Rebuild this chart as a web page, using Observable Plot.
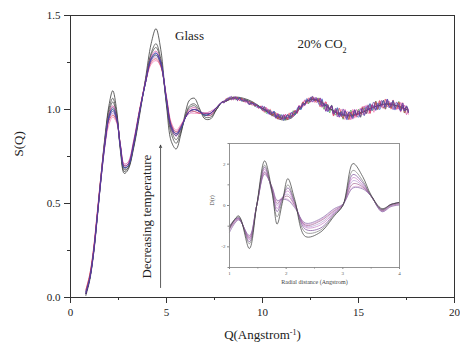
<!DOCTYPE html>
<html><head><meta charset="utf-8">
<script src="https://cdn.jsdelivr.net/npm/d3@7"></script>
<script src="https://cdn.jsdelivr.net/npm/@observablehq/plot@0.6"></script>
<style>
body{margin:0;background:#fff;}
#chart{width:460px;height:343px;}
</style></head><body><div id="chart"></div>
<script>
// ---- Main plot: S(Q) ----
const qLow = [0.8,1.0,1.2,1.4,1.6,1.8,2.0,2.2,2.4,2.6,2.8,3.0,3.3,3.6,3.9,4.2,4.45,4.7,5.0,5.25,5.5,5.75,6.0,6.2,6.45,6.7,7.0,7.3,7.6,7.9];
const lowGray1 = [0.02,0.10,0.24,0.44,0.66,0.86,1.02,1.10,1.00,0.78,0.66,0.68,0.80,0.97,1.16,1.35,1.43,1.32,1.02,0.83,0.79,0.87,0.99,1.05,1.06,1.01,0.95,0.95,1.00,1.04];
const lowGray2 = [0.01,0.09,0.23,0.43,0.65,0.85,1.00,1.06,0.98,0.79,0.67,0.69,0.81,0.98,1.15,1.30,1.35,1.27,1.03,0.87,0.82,0.88,0.97,1.02,1.03,1.00,0.96,0.96,1.00,1.04];
const lowGray3 = [0.02,0.10,0.24,0.44,0.65,0.84,0.98,1.04,0.97,0.80,0.68,0.69,0.81,0.99,1.15,1.29,1.33,1.26,1.04,0.89,0.84,0.89,0.97,1.01,1.02,0.99,0.97,0.97,1.00,1.04];
const lowMagenta = [0.03,0.11,0.25,0.45,0.66,0.84,0.97,1.02,0.96,0.80,0.69,0.70,0.82,0.99,1.15,1.28,1.31,1.25,1.05,0.90,0.86,0.90,0.96,1.00,1.01,0.99,0.97,0.97,1.01,1.04];
const lowBlue = [0.03,0.10,0.24,0.44,0.65,0.83,0.96,1.00,0.95,0.80,0.69,0.70,0.82,0.99,1.14,1.27,1.30,1.25,1.05,0.91,0.87,0.90,0.96,0.99,1.00,0.99,0.97,0.98,1.01,1.04];
const lowPurple = [0.02,0.10,0.23,0.43,0.64,0.82,0.95,0.99,0.95,0.81,0.70,0.71,0.83,0.99,1.14,1.26,1.29,1.24,1.06,0.91,0.87,0.91,0.96,0.99,1.00,0.99,0.98,0.98,1.01,1.04];
const lowRed = [0.04,0.12,0.26,0.46,0.66,0.83,0.94,0.97,0.94,0.81,0.70,0.71,0.83,1.00,1.14,1.25,1.27,1.23,1.06,0.92,0.88,0.91,0.96,0.99,0.99,0.98,0.98,0.98,1.01,1.04];
const lowLavender = [0.03,0.11,0.25,0.45,0.65,0.82,0.95,0.98,0.94,0.81,0.71,0.72,0.84,1.00,1.14,1.26,1.28,1.24,1.06,0.92,0.88,0.91,0.96,0.98,0.99,0.98,0.98,0.99,1.01,1.04];
const lowPink = [0.04,0.12,0.25,0.45,0.64,0.81,0.92,0.96,0.93,0.81,0.71,0.72,0.84,1.00,1.14,1.24,1.26,1.23,1.07,0.93,0.89,0.92,0.96,0.98,0.98,0.98,0.98,0.99,1.01,1.04];
const lowNavy = [0.02,0.10,0.24,0.44,0.64,0.82,0.96,1.01,0.96,0.80,0.69,0.70,0.82,0.99,1.14,1.27,1.30,1.25,1.05,0.90,0.86,0.90,0.96,0.99,1.00,0.99,0.97,0.98,1.01,1.04];
const lowGreen = [0.03,0.11,0.24,0.44,0.65,0.83,0.96,1.00,0.95,0.80,0.69,0.70,0.82,0.99,1.14,1.27,1.29,1.24,1.05,0.91,0.87,0.90,0.96,0.99,1.00,0.99,0.97,0.98,1.01,1.04];

// high-Q smooth gray curves (knots)
const qGrayHigh = [8.0,8.5,9.0,9.5,10.0,10.5,11.0,11.5,12.0,12.5,13.0,13.5,14.0,14.5,15.0,15.5,16.0,16.5,17.0,17.5];
const highGray1 = [1.04,1.065,1.06,1.04,1.005,0.97,0.945,0.955,1.01,1.055,1.045,1.005,0.975,0.965,0.975,1.0,1.02,1.03,1.02,1.0];
const highGray2 = [1.04,1.062,1.055,1.035,1.005,0.975,0.952,0.962,1.012,1.053,1.042,1.004,0.978,0.968,0.978,1.0,1.02,1.029,1.02,0.999];
const highGray3 = [1.04,1.06,1.052,1.032,1.005,0.978,0.956,0.966,1.013,1.052,1.041,1.004,0.979,0.97,0.979,1.0,1.02,1.028,1.02,0.999];

// high-Q noisy region
const qHigh = [8.0,8.1,8.2,8.3,8.4,8.5,8.6,8.7,8.8,8.9,9.0,9.1,9.2,9.3,9.4,9.5,9.6,9.7,9.8,9.9,
10.0,10.1,10.2,10.3,10.4,10.5,10.6,10.7,10.8,10.9,11.0,11.1,11.2,11.3,11.4,11.5,11.6,11.7,11.8,11.9,
12.0,12.1,12.2,12.3,12.4,12.5,12.6,12.7,12.8,12.9,13.0,13.1,13.2,13.3,13.4,13.5,13.6,13.7,13.8,13.9,
14.0,14.1,14.2,14.3,14.4,14.5,14.6,14.7,14.8,14.9,15.0,15.1,15.2,15.3,15.4,15.5,15.6,15.7,15.8,15.9,
16.0,16.1,16.2,16.3,16.4,16.5,16.6,16.7,16.8,16.9,17.0,17.1,17.2,17.3,17.4,17.5,17.6];
const baseHigh = [1.04,1.05,1.055,1.06,1.06,1.06,1.06,1.055,1.055,1.05,
1.05,1.045,1.04,1.035,1.03,1.03,1.025,1.02,1.015,1.01,
1.005,1.0,0.995,0.99,0.985,0.98,0.975,0.97,0.965,0.962,
0.96,0.958,0.958,0.96,0.965,0.97,0.978,0.985,0.995,1.005,
1.015,1.025,1.035,1.042,1.048,1.052,1.055,1.055,1.052,1.047,
1.04,1.032,1.025,1.017,1.01,1.003,0.997,0.992,0.988,0.984,
0.98,0.977,0.975,0.973,0.972,0.972,0.972,0.973,0.975,0.978,
0.981,0.985,0.989,0.993,0.997,1.001,1.005,1.009,1.013,1.017,
1.02,1.023,1.025,1.027,1.028,1.028,1.027,1.026,1.024,1.022,
1.02,1.017,1.013,1.009,1.004,0.998,0.992];
// noise deviations, thousandths
const jitMagenta = [3,-6,8,-2,5,-9,4,7,-5,2,-8,6,-3,9,-4,1,-7,5,-2,8,
-12,6,15,-9,3,-16,11,-4,14,-13,7,-2,16,-10,5,12,-15,8,-6,17,-11,2,13,-8,-14,9,4,-17,12,-5,
20,-14,6,-25,18,-8,24,-19,3,15,-22,10,-4,27,-16,8,-26,19,-11,22,-6,-20,14,25,-18,5,-24,17,-9,28,-21,12,-3,23,-27,9,16,-13,26,-20,4,-15,24,-8,19,-25,10];
const jitBlue = [-5,4,-1,7,-8,3,6,-4,9,-6,2,-3,8,-7,4,-1,6,-9,3,-5,
14,-8,4,-15,10,-2,17,-12,6,-7,13,-16,3,9,-11,15,-4,-13,8,11,-17,5,-9,16,-6,12,-14,2,10,-12,
-18,25,-9,14,-23,7,20,-15,-2,26,-19,11,-7,21,-28,13,4,-17,24,-10,-22,16,6,-26,19,-5,27,-14,9,-21,15,-24,3,20,-16,28,-11,-6,22,-25,13,7,-19,25,-12,17,-8];
const jitPurple = [6,-2,-7,4,9,-5,1,-8,5,3,-6,8,-1,-9,6,2,-4,7,-8,4,
-9,16,-5,11,-14,3,8,-17,12,-3,-10,15,-7,13,-2,-16,9,6,-13,14,-4,10,-15,7,1,-11,17,-8,5,-6,
22,-17,9,-27,13,-4,25,-12,18,-23,6,-15,28,-9,-20,16,3,-24,21,-7,11,-26,19,-2,-18,24,-13,8,27,-21,5,-11,23,-16,-4,26,-19,12,-25,9,18,-7,-22,15,-13,22,-3];
const jitRed = [-3,8,-6,2,-9,7,-1,5,-7,9,-4,-2,7,-6,3,8,-5,1,-8,6,
11,-15,7,-4,16,-9,2,13,-17,6,-12,10,4,-14,17,-7,-3,12,-16,9,-1,15,-10,-5,14,-13,8,3,-15,11,
-26,14,-8,23,-17,2,19,-25,10,-14,27,-6,-21,17,8,-28,15,-3,24,-19,12,-9,26,-23,4,18,-27,13,-5,21,-16,25,-10,-20,28,-13,6,-24,19,-1,-17,23,-11,27,-22,14,-6];
const jitGreen = [2,-4,6,-7,3,5,-8,1,7,-3,-6,4,9,-5,-2,8,-9,3,6,-4,
-7,12,-16,5,9,-13,15,-2,-11,14,-6,8,-15,11,3,-9,16,-12,1,7,-14,13,-5,10,-17,4,12,-8,-3,15,
-12,19,-24,7,15,-21,26,-4,-17,22,-9,13,-27,18,2,-22,25,-14,9,-6,20,-26,11,16,-19,3,24,-15,-8,27,-20,10,-2,21,-25,14,6,-18,23,-11,-5,26,-16,12,-23,19,-9];
const jitPink = [-6,3,5,-8,2,-4,9,-7,4,-1,6,-9,2,7,-3,-8,5,4,-6,1,
8,-11,14,-6,-13,10,3,-16,12,-5,9,-14,17,-8,-2,13,-10,6,-15,11,4,-12,16,-7,-1,14,-16,9,2,-10,
17,-22,8,25,-16,-5,21,-27,12,3,-19,24,-10,-26,18,7,-14,28,-21,5,-12,23,-17,10,26,-24,-3,16,-28,19,-8,22,-13,4,-25,20,11,-18,27,-6,-21,15,-27,24,-9,13,-18];

const xTicks = [0,5,10,15,20], xMinor = [2.5,7.5,12.5,17.5];
const yTicks = [0,0.5,1.0,1.5], yMinor = [0.25,0.75,1.25];

// ---- Inset: D(r) ----
const rIn = [1.0,1.16,1.35,1.48,1.62,1.75,1.84,1.93,2.03,2.15,2.34,2.6,2.85,3.0,3.18,3.35,3.5,3.69,3.85,4.0];
const d1 = [-1.1,-0.5,-2.08,0.0,2.16,0.7,-0.9,0.1,1.3,0.3,-1.5,-1.3,-0.5,0.0,2.03,1.4,0.5,-0.15,0.05,0.15];
const d2 = [-1.0,-0.55,-1.85,0.0,1.95,0.6,-0.55,0.2,1.0,0.2,-1.3,-1.2,-0.45,0.0,1.7,1.2,0.45,-0.2,0.05,0.15];
const d3 = [-1.0,-0.6,-1.75,0.0,1.85,0.7,-0.3,0.3,0.85,0.15,-1.15,-1.1,-0.4,0.0,1.5,1.1,0.45,-0.2,0.05,0.15];
const d4 = [-1.05,-0.6,-1.65,0.0,1.75,0.75,-0.15,0.35,0.7,0.1,-1.05,-0.95,-0.35,0.02,1.35,1.0,0.45,-0.2,0.05,0.12];
const d5 = [-1.1,-0.62,-1.6,0.0,1.65,0.8,0.0,0.4,0.55,0.05,-1.0,-0.85,-0.3,0.03,1.2,0.95,0.45,-0.25,0.0,0.1];
const d6 = [-1.15,-0.65,-1.55,0.0,1.6,0.85,0.1,0.35,0.45,0.0,-0.95,-0.75,-0.25,0.05,1.05,0.9,0.45,-0.25,0.0,0.08];
const d7 = [-1.2,-0.68,-1.5,0.0,1.55,0.9,0.2,0.35,0.3,-0.05,-0.9,-0.7,-0.2,0.05,0.9,0.85,0.45,-0.3,-0.05,0.05];
const d8 = [-1.3,-0.7,-1.45,0.0,1.5,0.9,0.25,0.3,0.25,-0.1,-0.85,-0.65,-0.15,0.06,0.85,0.8,0.45,-0.3,-0.05,0.02];
const rTicks = [1,2,3,4], rMinor = [1.5,2.5,3.5];
const dTicks = [-2,0,2], dMinor = [-3,-1,1,3];

// ---- build rows ----
const rows = (xs, ys) => xs.map((x, i) => ({x, y: ys[i]}));
const noisy = (jit) => baseHigh.map((b, i) => b + jit[i] / 1000);

const grayCurves = [
  {c: "#555555", r: rows(qLow.concat(qGrayHigh), lowGray3.concat(highGray3))},
  {c: "#4a4a4a", r: rows(qLow.concat(qGrayHigh), lowGray2.concat(highGray2))},
  {c: "#3a3a3a", r: rows(qLow.concat(qGrayHigh), lowGray1.concat(highGray1))}
];
const colorCurves = [
  {c: "#a890d8", r: rows(qLow, lowLavender)},
  {c: "#ee6fb0", r: rows(qLow.concat(qHigh), lowPink.concat(noisy(jitPink)))},
  {c: "#d2349a", r: rows(qLow.concat(qHigh), lowMagenta.concat(noisy(jitMagenta)))},
  {c: "#3a9a3a", r: rows(qLow.concat(qHigh), lowGreen.concat(noisy(jitGreen)))},
  {c: "#d8344a", r: rows(qLow.concat(qHigh), lowRed.concat(noisy(jitRed)))},
  {c: "#2c2c80", r: rows(qLow, lowNavy)},
  {c: "#3b4fc8", r: rows(qLow.concat(qHigh), lowBlue.concat(noisy(jitBlue)))},
  {c: "#6a2c9a", r: rows(qLow.concat(qHigh), lowPurple.concat(noisy(jitPurple)))}
];
const insetCurves = [
  {c: "#d9a6d9", v: d7}, {c: "#b39ad0", v: d5}, {c: "#c47ac4", v: d4}, {c: "#a0608f", v: d6},
  {c: "#8a6aa8", v: d8}, {c: "#7a4a9a", v: d3}, {c: "#7a7a7a", v: d2}, {c: "#3a3a3a", v: d1}
];

const serif = "'Liberation Serif', 'Times New Roman', serif";

const main = Plot.plot({
  width: 460, height: 343,
  marginLeft: 70, marginRight: 6, marginTop: 15, marginBottom: 46,
  style: {fontFamily: serif, fontSize: "11px", color: "#222", background: "#fff", overflow: "visible"},
  x: {domain: [0, 20], label: null},
  y: {domain: [0, 1.5], label: null},
  marks: [
    ...grayCurves.map(d => Plot.line(d.r, {x: "x", y: "y", stroke: d.c, strokeWidth: 0.8, curve: "catmull-rom"})),
    ...colorCurves.map(d => Plot.line(d.r, {x: "x", y: "y", stroke: d.c, strokeWidth: 0.7, curve: "catmull-rom"})),
    Plot.frame({stroke: "#333", strokeWidth: 1}),
    Plot.axisX(xTicks, {tickSize: 6, tickPadding: 5, tickFormat: d => String(d), stroke: "#333", label: null}),
    Plot.axisX(xMinor, {tickSize: 3, tickFormat: () => "", stroke: "#333", label: null}),
    Plot.axisY(yTicks, {tickSize: 6, tickPadding: 4, tickFormat: d => d.toFixed(1), stroke: "#333", label: null}),
    Plot.axisY(yMinor, {tickSize: 3, tickFormat: () => "", stroke: "#333", label: null}),
    Plot.text(["S(Q)"], {text: d => d, frameAnchor: "left", dx: -52, rotate: -90, fontSize: 13, fill: "#222"}),
    Plot.text(["Q(Angstrom-1)"], {text: d => d, frameAnchor: "bottom", dy: 41, fontSize: 13, fill: "#222", className: "xlab"}),
    Plot.text(["Glass"], {text: d => d, x: 6.2, y: 1.39, fontSize: 13, fill: "#222"}),
    Plot.text(["20% CO2"], {text: d => d, x: 13.1, y: 1.35, fontSize: 13, fill: "#222", className: "co2"}),
    Plot.text(["Decreasing temperature"], {text: d => d, x: 3.95, y: 0.43, rotate: -90, fontSize: 13, fill: "#222"}),
    Plot.arrow([0], {x1: 4.69, y1: 0.053, x2: 4.69, y2: 0.81, headLength: 5, headAngle: 50, stroke: "#333", strokeWidth: 0.8})
  ]
});

const inset = Plot.plot({
  width: 196, height: 150,
  marginLeft: 22, marginRight: 4, marginTop: 4, marginBottom: 22,
  style: {fontFamily: serif, fontSize: "5px", color: "#555", background: "none", overflow: "visible"},
  x: {domain: [1, 4], label: null},
  y: {domain: [-3, 3], label: null},
  marks: [
    ...insetCurves.map(d => Plot.line(rows(rIn, d.v), {x: "x", y: "y", stroke: d.c, strokeWidth: 0.7, curve: "catmull-rom"})),
    Plot.frame({stroke: "#888", strokeWidth: 0.9}),
    Plot.axisX(rTicks, {tickSize: 2, tickPadding: 2, tickFormat: d => String(d), stroke: "#888", fontSize: 5, label: null}),
    Plot.axisX(rMinor, {tickSize: 1.5, tickFormat: () => "", stroke: "#888", label: null}),
    Plot.axisY(dTicks, {tickSize: 2, tickPadding: 2, tickFormat: d => String(d), stroke: "#888", fontSize: 5, label: null}),
    Plot.axisY(dMinor, {tickSize: 1.5, tickFormat: () => "", stroke: "#888", label: null}),
    Plot.text(["Radial distance (Angstrom)"], {text: d => d, frameAnchor: "bottom", dy: 16, fontSize: 6, fill: "#444"}),
    Plot.text(["D(r)"], {text: d => d, frameAnchor: "left", dx: -17, rotate: -90, fontSize: 6, fill: "#444"})
  ]
});
inset.setAttribute("x", 207);
inset.setAttribute("y", 139);
inset.style.width = "196px";
inset.style.height = "150px";
inset.style.maxWidth = "none";
main.appendChild(inset);

// superscript / subscript text (native DOM)
const NS = "http://www.w3.org/2000/svg";
function setRich(sel, parts) {
  const t = main.querySelector(sel);
  if (!t) return;
  while (t.firstChild) t.removeChild(t.firstChild);
  for (const p of parts) {
    const s = document.createElementNS(NS, "tspan");
    s.textContent = p.t;
    if (p.shift) { s.setAttribute("baseline-shift", p.shift); s.setAttribute("font-size", "8"); }
    t.appendChild(s);
  }
}
setRich("g.xlab text", [{t: "Q(Angstrom"}, {t: "-1", shift: "super"}, {t: ")"}]);
setRich("g.co2 text", [{t: "20% CO"}, {t: "2", shift: "sub"}]);

document.getElementById("chart").appendChild(main);
</script>
</body></html>
